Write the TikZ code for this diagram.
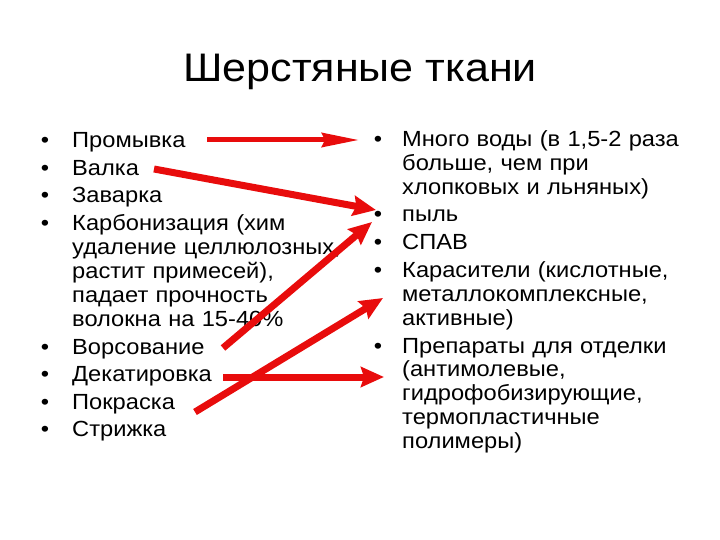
\documentclass[tikz,border=0pt]{standalone}
\usepackage{fontspec}
\setmainfont[FakeStretch=1.08]{Liberation Sans}
\usetikzlibrary{arrows.meta}
\definecolor{arrred}{RGB}{232,12,12}
\tikzset{
  title/.style={anchor=base,inner sep=0,font=\fontsize{40}{44}\selectfont},
  item/.style={anchor=base west,inner sep=0,text width=320bp,align=left,font=\fontsize{22}{24}\selectfont},
  bul/.style={anchor=base,inner sep=0,font=\fontsize{22}{24}\selectfont},
  thinarr/.style={draw=arrred,line width=5bp,-{Stealth[length=37bp,width=14bp,inset=3bp,fill=arrred]}},
  thickarr/.style={draw=arrred,line width=7bp,-{Stealth[length=23bp,width=20bp,inset=3bp,fill=arrred]}}
}
\begin{document}
\begin{tikzpicture}[x=1bp,y=-1bp]
\useasboundingbox (0,0) rectangle (720,540);
\node[title] (t) at (360,82) {Шерстяные ткани};
% left column
\foreach \y in {148,175.5,203,230.5,354,381.5,409,436.5} \node[bul] at (45,\y) {•};
\node[item] (l1) at (72,148) {Промывка};
\node[item] (l2) at (72,175.5) {Валка};
\node[item] (l3) at (72,203) {Заварка};
\node[item] (l4) at (72,230.5) {Карбонизация (хим\\удаление целлюлозных,\\растит примесей),\\падает прочность\\волокна на 15-40\%};
\node[item] (l5) at (72,354) {Ворсование};
\node[item] (l6) at (72,381.5) {Декатировка};
\node[item] (l7) at (72,409) {Покраска};
\node[item] (l8) at (72,436.5) {Стрижка};
% right column
\foreach \y in {147,222,250,278,353} \node[bul] at (378,\y) {•};
\node[item] (r1) at (402,147) {Много воды (в 1,5-2 раза\\больше, чем при\\хлопковых и льняных)};
\node[item] (r2) at (402,222) {пыль};
\node[item] (r3) at (402,250) {СПАВ};
\node[item] (r4) at (402,278) {Карасители (кислотные,\\металлокомплексные,\\активные)};
\node[item] (r5) at (402,353) {Препараты для отделки\\(антимолевые,\\гидрофобизирующие,\\термопластичные\\полимеры)};
% arrow ends
\coordinate (a1s) at (207,140);
\coordinate (a1e) at (359,140);
\coordinate (a2s) at (154,169);
\coordinate (a2e) at (376,210);
\coordinate (a3s) at (223,348);
\coordinate (a3e) at (372,222);
\coordinate (a4s) at (223,377);
\coordinate (a4e) at (384,377);
\coordinate (a5s) at (195,412);
\coordinate (a5e) at (383,298);
\draw[thinarr] (a1s) -- (a1e);
\draw[thickarr] (a2s) -- (a2e);
\draw[thickarr] (a3s) -- (a3e);
\draw[thickarr] (a4s) -- (a4e);
\draw[thickarr] (a5s) -- (a5e);
\end{tikzpicture}
\end{document}
